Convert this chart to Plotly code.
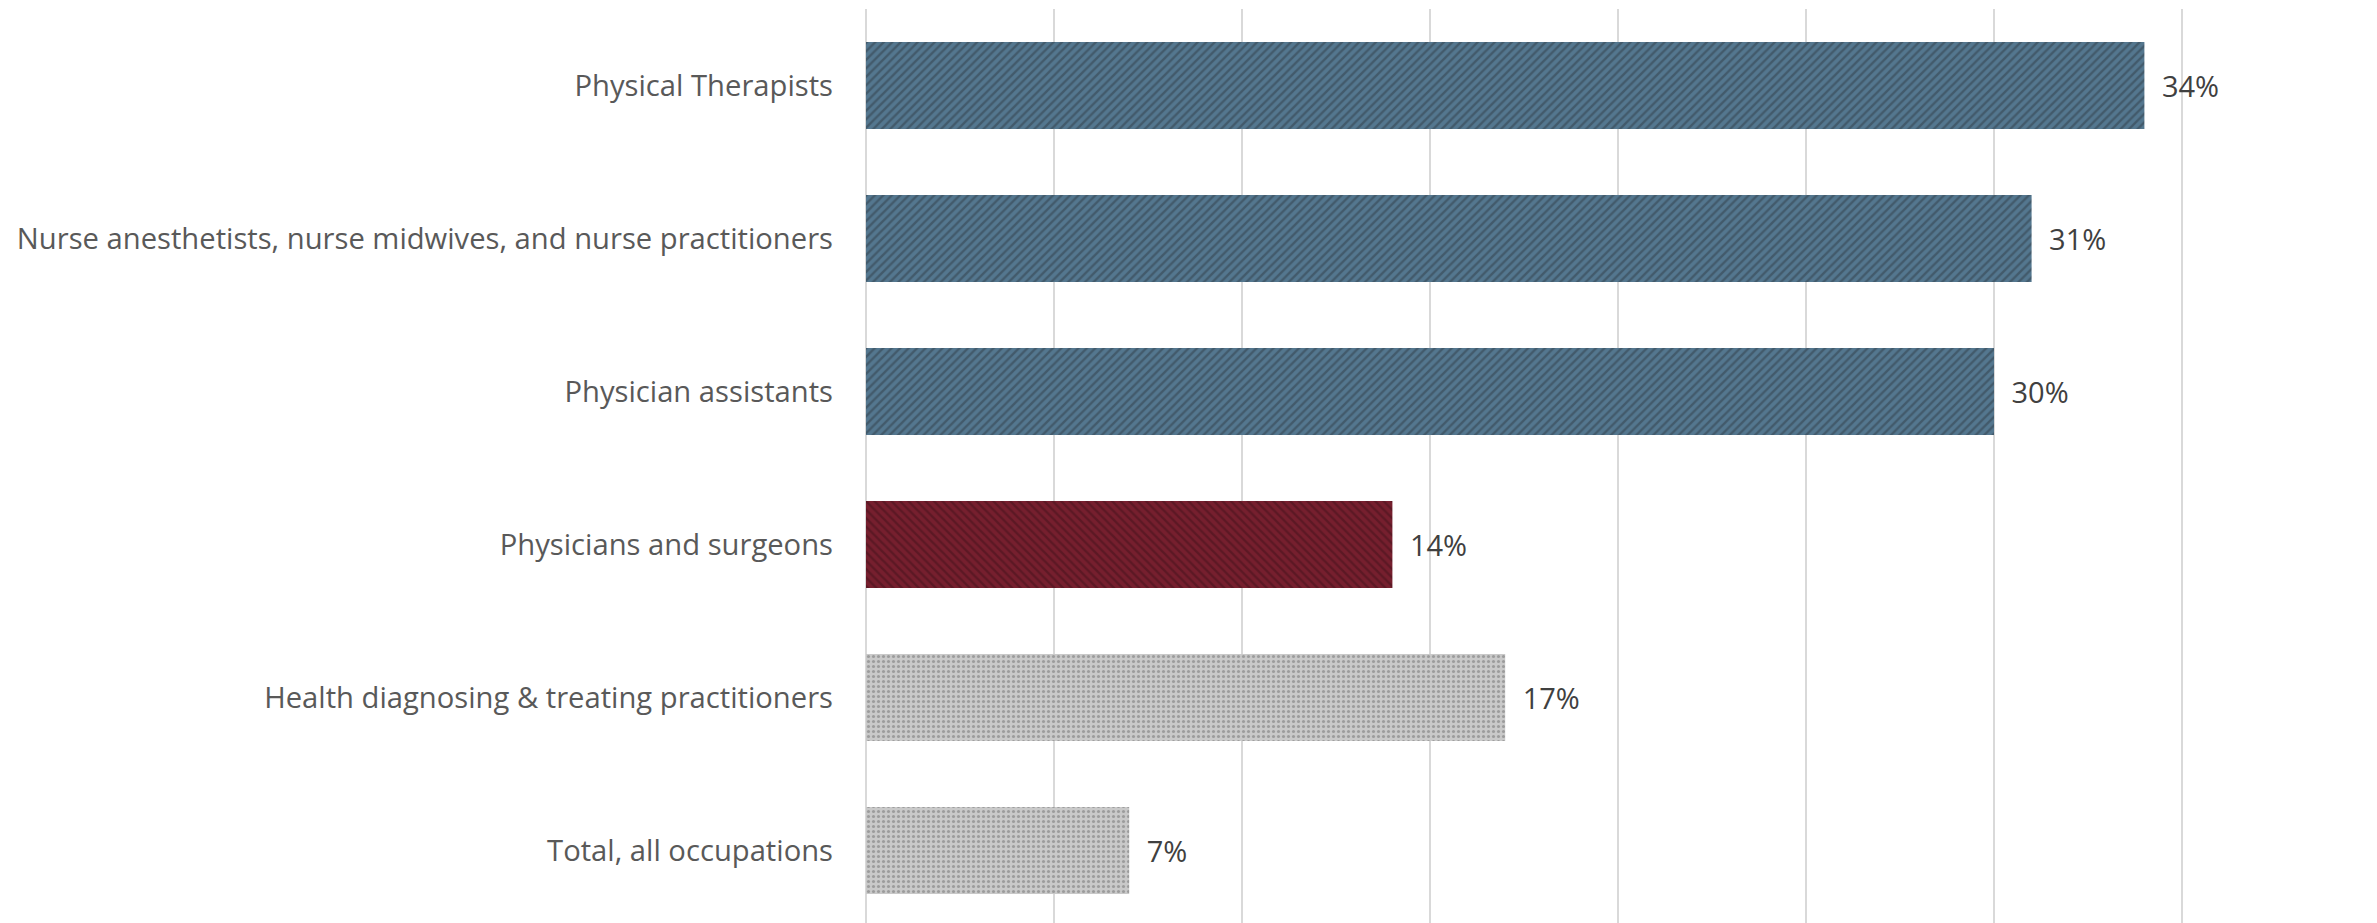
import plotly.graph_objects as go

# Share of workers by occupation (percent)
categories = [
    "Physical Therapists",
    "Nurse anesthetists, nurse midwives, and nurse practitioners",
    "Physician assistants",
    "Physicians and surgeons",
    "Health diagnosing & treating practitioners",
    "Total, all occupations",
]
values = [34, 31, 30, 14, 17, 7]
value_labels = ["34%", "31%", "30%", "14%", "17%", "7%"]

# Bar groups: which rows belong to each, with fill and hatch styling
groups = [
    dict(rows=[0, 1, 2], fill="#54778F", hatch="#425A6B", shape="/", size=6, solidity=0.4),
    dict(rows=[3], fill="#761F2E", hatch="#5C1824", shape="\\", size=6, solidity=0.4),
    dict(rows=[4, 5], fill="#C9C9C9", hatch="#9C9C9C", shape=".", size=5, solidity=0.3),
]

fig = go.Figure()
for g in groups:
    fig.add_trace(
        go.Bar(
            x=[values[i] for i in g["rows"]],
            y=[categories[i] for i in g["rows"]],
            orientation="h",
            text=[value_labels[i] for i in g["rows"]],
            texttemplate="\u2002%{text}",
            textposition="outside",
            textfont=dict(family="Open Sans", size=29, color="#404040"),
            cliponaxis=False,
            marker=dict(
                color=g["fill"],
                line=dict(width=0),
                pattern=dict(
                    shape=g["shape"],
                    bgcolor=g["fill"],
                    fgcolor=g["hatch"],
                    fgopacity=1,
                    size=g["size"],
                    solidity=g["solidity"],
                    fillmode="replace",
                ),
            ),
            hoverinfo="skip",
        )
    )

fig.update_layout(
    width=2377,
    height=923,
    margin=dict(l=866, r=7, t=9, b=0),
    paper_bgcolor="white",
    plot_bgcolor="white",
    barmode="overlay",
    bargap=0.43,
    showlegend=False,
    font=dict(family="Open Sans", color="#595959"),
)

fig.update_xaxes(
    range=[0, 40],
    dtick=5,
    showticklabels=False,
    showgrid=True,
    gridcolor="#D9D9D9",
    gridwidth=2,
    zeroline=True,
    zerolinecolor="#D9D9D9",
    zerolinewidth=2,
    showline=False,
    fixedrange=True,
)

fig.update_yaxes(
    categoryorder="array",
    categoryarray=categories,
    range=[5.474, -0.5],
    showgrid=False,
    zeroline=False,
    showline=False,
    ticks="",
    ticklabelstandoff=32,
    tickfont=dict(family="Open Sans", size=29.2, color="#595959"),
    fixedrange=True,
)

fig.write_html("out.html")
